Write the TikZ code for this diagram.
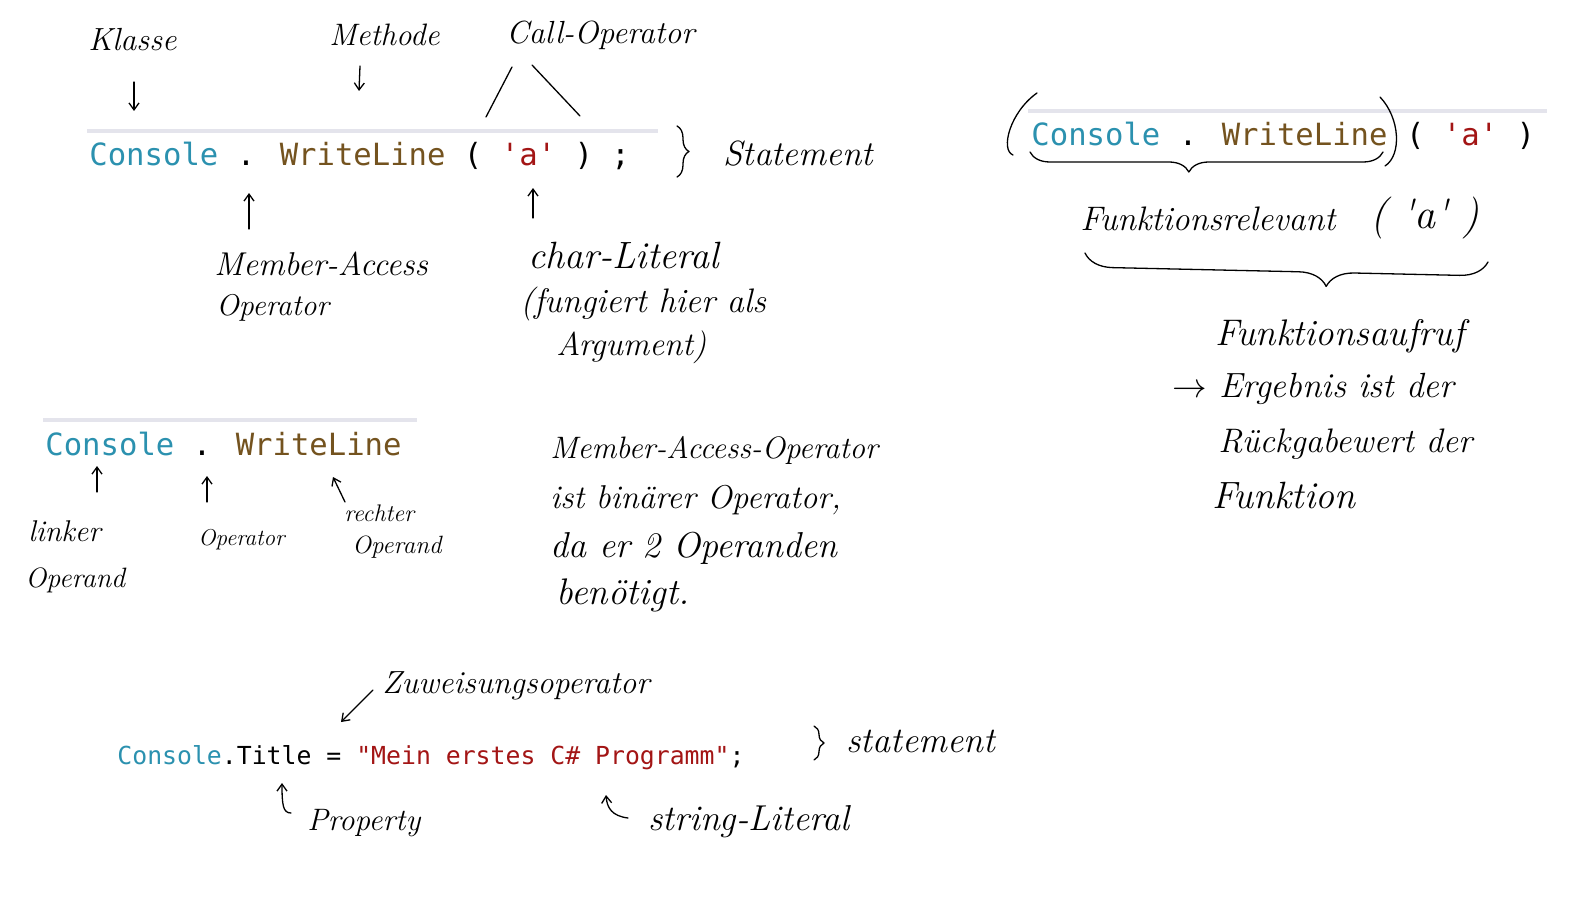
\documentclass[tikz,border=0pt]{standalone}
\usepackage{fontspec}
\usetikzlibrary{arrows.meta,decorations.pathreplacing}
\newfontfamily\codefont{DejaVu Sans Mono}
\definecolor{cls}{HTML}{2B91AF}
\definecolor{mth}{HTML}{74531F}
\definecolor{lit}{HTML}{A31515}
\definecolor{barcol}{HTML}{E4E4EC}
\newcommand\hwf[1]{\fontsize{#1}{#1}\selectfont\itshape}
\newcommand\cdf[1]{\codefont\fontsize{#1}{#1}\selectfont}
\begin{document}
\begin{tikzpicture}[x=0.5pt,y=-0.5pt,
  hand/.style={anchor=base west,inner sep=0pt,text=black},
  code/.style={anchor=base west,inner sep=0pt},
  pen/.style={line width=0.65pt,line cap=round,line join=round},
  harrow/.style={pen,-{Straight Barb[length=3.5pt,width=5pt]}},
  barline/.style={barcol,line width=1.6pt},
  hbrace/.style={pen,decorate,decoration={brace,#1}},
]
\fill[white] (0,0) rectangle (1579,899);
\useasboundingbox (0,0) rectangle (1579,899);

% gray bars
\draw[barline] (87,131) -- (658,131);
\draw[barline] (43,420) -- (417,420);
\draw[barline] (1028,111) -- (1547,111);

% code lines
\node[code,font=\cdf{15.3}] (c1) at (89,165) {\textcolor{cls}{Console} . \textcolor{mth}{WriteLine} ( \textcolor{lit}{'a'} ) ;};
\node[code,font=\cdf{15.3}] (c2) at (45,455) {\textcolor{cls}{Console} . \textcolor{mth}{WriteLine}};
\node[code,font=\cdf{15.3}] (c3) at (1031,146) {\textcolor{cls}{Console} . \textcolor{mth}{WriteLine} ( \textcolor{lit}{'a'} )};
\node[code,font=\cdf{12.4}] (c4) at (117,764) {\textcolor{cls}{Console}.Title = \textcolor{lit}{"Mein erstes C\# Programm"};};

% handwritten labels
\node[hand,font=\hwf{16}] (klasse) at (88,51) {Klasse};
\node[hand,font=\hwf{15.5}] (methode) at (329,46) {Methode};
\node[hand,font=\hwf{16}] (callop) at (506,44) {Call-Operator};
\node[hand,font=\hwf{17.5}] (stmt1) at (723,165) {Statement};
\node[hand,font=\hwf{16.5}] (ma1) at (214,275) {Member-Access};
\node[hand,font=\hwf{15}] (ma2) at (216,315) {Operator};
\node[hand,font=\hwf{19}] (cl1) at (528,268) {char-Literal};
\node[hand,font=\hwf{17}] (cl2) at (520,312) {(fungiert hier als};
\node[hand,font=\hwf{16.5}] (cl3) at (556,355) {Argument)};
\node[hand,font=\hwf{17}] (frel) at (1080,230) {Funktionsrelevant};
\node[hand,font=\hwf{21}] (fa) at (1370,228) {( \textquotesingle a\textquotesingle\ )};
\node[hand,font=\hwf{18.5}] (fr1) at (1215,345) {Funktionsaufruf};
\node[hand,font=\hwf{17.5}] (fr2) at (1172,397) {$\rightarrow$ Ergebnis ist der};
\node[hand,font=\hwf{17}] (fr3) at (1218,452) {Rückgabewert der};
\node[hand,font=\hwf{19}] (fr4) at (1212,508) {Funktion};
\node[hand,font=\hwf{15}] (lo1) at (28,541) {linker};
\node[hand,font=\hwf{14}] (lo2) at (25,587) {Operand};
\node[hand,font=\hwf{11.5}] (op) at (198,545) {Operator};
\node[hand,font=\hwf{12}] (ro1) at (344,521) {rechter};
\node[hand,font=\hwf{12.5}] (ro2) at (352,553) {Operand};
\node[hand,font=\hwf{15.5}] (mb1) at (550,458) {Member-Access-Operator};
\node[hand,font=\hwf{16.5}] (mb2) at (550,508) {ist binärer Operator,};
\node[hand,font=\hwf{18}] (mb3) at (550,557) {da er 2 Operanden};
\node[hand,font=\hwf{18.5}] (mb4) at (556,604) {benötigt.};
\node[hand,font=\hwf{16}] (zw) at (382,693) {Zuweisungsoperator};
\node[hand,font=\hwf{18}] (stmt2) at (846,752) {statement};
\node[hand,font=\hwf{15.5}] (prop) at (307,830) {Property};
\node[hand,font=\hwf{18}] (strl) at (648,830) {string-Literal};

% connector end points
\coordinate (klA) at (134,82);  \coordinate (klB) at (134,111);
\coordinate (meA) at (360,66);  \coordinate (meB) at (359,91);
\coordinate (caL1) at (512,67); \coordinate (caL2) at (486,117);
\coordinate (caR1) at (532,65); \coordinate (caR2) at (580,116);
\coordinate (maA) at (249,229); \coordinate (maB) at (249,193);
\coordinate (chA) at (533,218); \coordinate (chB) at (533,188);
\coordinate (liA) at (97,492);  \coordinate (liB) at (97,466);
\coordinate (opA) at (207,502); \coordinate (opB) at (207,476);
\coordinate (reA) at (345,502); \coordinate (reB) at (333,477);
\coordinate (zwA) at (373,690); \coordinate (zwB) at (341,722);
\coordinate (prA) at (291,813); \coordinate (prB) at (282,783);
\coordinate (stA) at (628,818); \coordinate (stB) at (606,795);

% connectors
\draw[harrow] (klA) -- (klB);
\draw[harrow] (meA) -- (meB);
\draw[pen] (caL1) -- (caL2);
\draw[pen] (caR1) -- (caR2);
\draw[harrow] (maA) -- (maB);
\draw[harrow] (chA) -- (chB);
\draw[harrow] (liA) -- (liB);
\draw[harrow] (opA) -- (opB);
\draw[harrow] (reA) -- (reB);
\draw[harrow] (zwA) -- (zwB);
\draw[harrow] (prA) .. controls (283,813) and (282,805) .. (prB);
\draw[harrow] (stA) .. controls (612,816) and (607,808) .. (stB);

% braces
\draw[hbrace={amplitude=6pt}] (677,126) -- (677,177);
\draw[hbrace={amplitude=5pt}] (814,726) -- (814,760);
\draw[hbrace={mirror,amplitude=10pt,aspect=0.45}] (1030,152) -- (1383,152);
\draw[hbrace={mirror,amplitude=14pt,aspect=0.6}] (1085,253) -- (1488,262);

% hand-drawn parentheses
\draw[pen] (1037,93) .. controls (1010,112) and (1000,150) .. (1013,155);
\draw[pen] (1380,97) .. controls (1400,118) and (1402,155) .. (1385,166);
\end{tikzpicture}
\end{document}
